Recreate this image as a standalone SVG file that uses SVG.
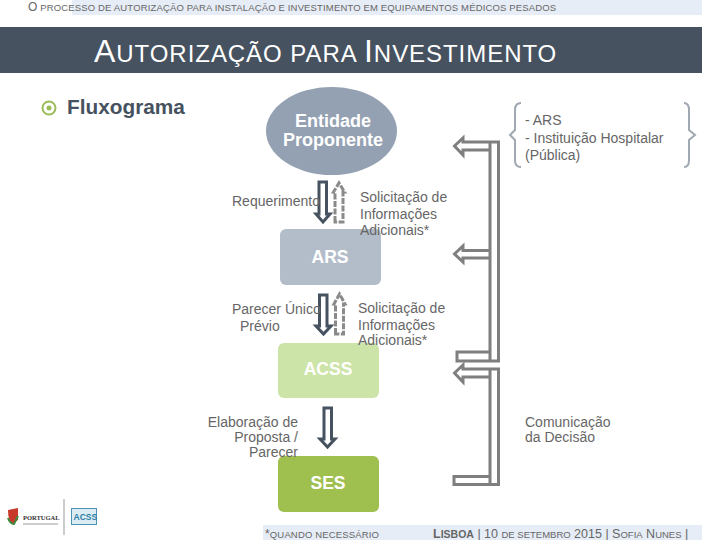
<svg xmlns="http://www.w3.org/2000/svg" width="720" height="540" viewBox="0 0 720 540">
<style>
text{font-family:"Liberation Sans",Arial,sans-serif;fill:#666}
.lb{font-size:14px}
.nd{font-size:17.500px;font-weight:bold;fill:#fff;text-anchor:middle}
.dark{fill:none;stroke:#465260;stroke-width:3}
.gr{fill:none;stroke:#7f7f7f;stroke-width:3}
.dash{fill:none;stroke:#8a8a8a;stroke-width:3;stroke-dasharray:6 1.500}
.br{fill:none;stroke:#a0a8b2;stroke-width:2}
.sm{font-size:9.500px;letter-spacing:.15px}
</style>
<rect width="720" height="540" fill="#fff"/>
<rect x="72" y="0" width="630" height="15" fill="#e6edf6"/>
<text x="28" y="11" class="sm"><tspan font-size="12">O</tspan> PROCESSO DE AUTORIZAÇÃO PARA INSTALAÇÃO E INVESTIMENTO EM EQUIPAMENTOS MÉDICOS PESADOS</text>
<rect x="0" y="27" width="702" height="46" fill="#465260"/>
<text x="94" y="62" style="fill:#fff;letter-spacing:.95px" font-size="24"><tspan font-size="32">A</tspan>UTORIZAÇÃO PARA <tspan font-size="32">I</tspan>NVESTIMENTO</text>
<g id="bullet"><circle cx="49" cy="108" r="6.500" fill="none" stroke="#9bbb59" stroke-width="2"/><circle cx="49" cy="108" r="2.500" fill="#9bbb59"/></g>
<text x="67" y="114" font-size="20.800" font-weight="bold" style="fill:#465260">Fluxograma</text>
<g id="entidade"><ellipse cx="331.500" cy="131" rx="65.500" ry="44" fill="#94a1b2"/><text class="nd" x="333" y="127" style="font-size:18px">Entidade</text><text class="nd" x="333" y="146" style="font-size:18px">Proponente</text></g>
<g id="ars"><rect x="280" y="229" width="101" height="56" rx="6" fill="#b3bdca"/><text class="nd" x="330" y="263">ARS</text></g>
<g id="acss"><rect x="278" y="343" width="101" height="55" rx="6" fill="#cde4a9"/><text class="nd" x="328" y="375">ACSS</text></g>
<g id="ses"><rect x="278" y="456" width="101" height="56" rx="6" fill="#9fbf4f"/><text class="nd" x="328" y="489">SES</text></g>
<g id="connectors">
<path class="dark" d="M319 182H326.500V214H330L323 222L316 214H319Z"/>
<path class="dash" d="M335 222V192H333.500L339 183L344.500 192H343V222Z"/>
<path class="dark" d="M319.500 295H327V326H331L323.500 334L316 326H319.500Z"/>
<path class="dash" d="M335.500 334V304H334L339.500 294L345 304H343.500V334Z"/>
<path class="dark" d="M324 408H331.500V439H335L327.500 447L320 439H324Z"/>
<path class="gr" d="M490 150H463V155L454.500 146L463 138V142H498.500V361H457V352H490M490 142V361"/>
<path class="gr" d="M490 250.500H463V246L454.500 254L463 262V258H490"/>
<path class="gr" d="M490 377H463V382L454.500 373L463 365V369H498.500V484.500H454V476.500H490M490 369V484.500"/>
</g>
<path class="br" d="M521 103Q515 103 515 110V130L510 135L515 140V160Q515 167 521 167"/>
<path class="br" d="M684 103Q689 103 689 110V130L695 135L689 140V160Q689 167 684 167"/>
<text class="lb" x="525" y="125">- ARS</text>
<text class="lb" x="525" y="143">- Instituição Hospitalar</text>
<text class="lb" x="525" y="160">(Pública)</text>
<text class="lb" x="232" y="206">Requerimento</text>
<text class="lb" x="360" y="202">Solicitação de</text>
<text class="lb" x="360" y="219">Informações</text>
<text class="lb" x="360" y="235">Adicionais*</text>
<text class="lb" x="232" y="314">Parecer Único</text>
<text class="lb" x="240" y="331">Prévio</text>
<text class="lb" x="358" y="313">Solicitação de</text>
<text class="lb" x="358" y="330">Informações</text>
<text class="lb" x="358" y="345">Adicionais*</text>
<text class="lb" x="298" y="427" text-anchor="end">Elaboração de</text>
<text class="lb" x="298" y="442" text-anchor="end">Proposta /</text>
<text class="lb" x="298" y="457" text-anchor="end">Parecer</text>
<text class="lb" x="525" y="427">Comunicação</text>
<text class="lb" x="525" y="442">da Decisão</text>
<rect x="263" y="525" width="439" height="15" fill="#e6edf6"/>
<text x="265" y="538" class="sm"><tspan font-size="12">*</tspan>QUANDO NECESSÁRIO</text>
<text x="433" y="538" font-size="12.500"><tspan font-weight="bold">L<tspan font-size="10.500">ISBOA</tspan></tspan> | 10 <tspan font-size="9.500">DE SETEMBRO</tspan> 2015 | S<tspan font-size="9.500">OFIA</tspan> N<tspan font-size="9.500">UNES</tspan> |</text>
<g id="logos">
<path d="M8 510L18 508V520L12 524Q8 520 8 510Z" fill="#c8392b"/><path d="M8 518Q10 524 14 524L18 516" fill="none" stroke="#3d8b3d" stroke-width="2"/>
<text x="23" y="520" font-size="6.500" font-weight="bold" style="fill:#333;font-family:'Liberation Serif',serif">PORTUGAL</text>
<line x1="23" y1="524" x2="58" y2="524" stroke="#999"/>
<line x1="64" y1="499" x2="64" y2="535" stroke="#999"/>
<rect x="71.500" y="508.500" width="25" height="16" fill="#dcecf4" stroke="#4d93b5"/>
<text x="73.500" y="520" font-size="8.500" font-weight="bold" style="fill:#2f7fa5">ACSS</text>
</g>
</svg>
